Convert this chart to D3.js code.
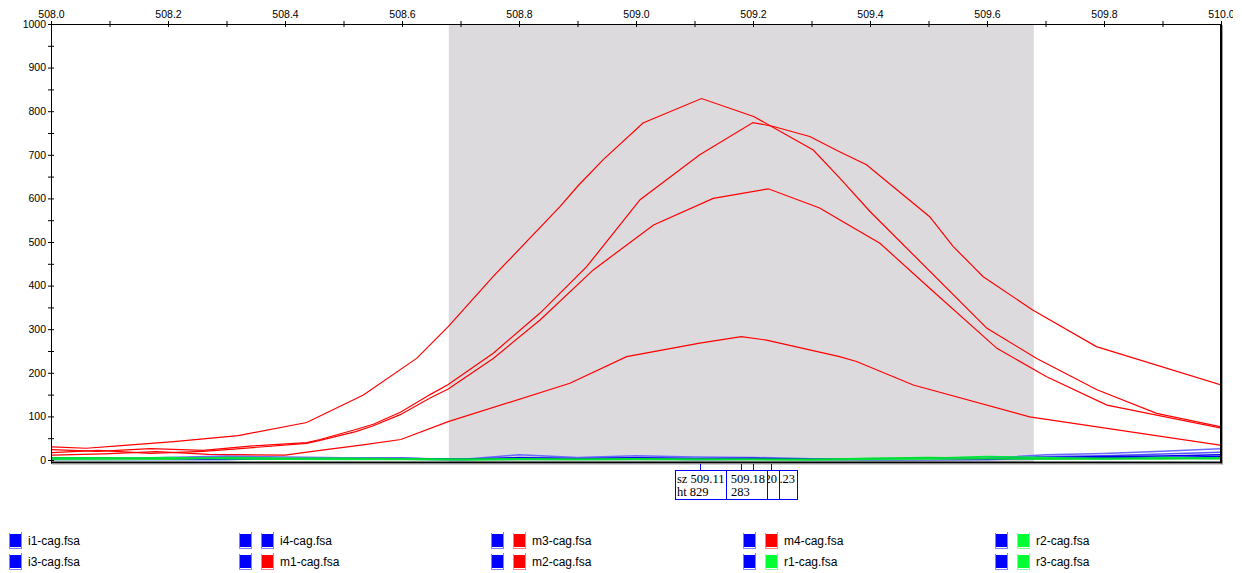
<!DOCTYPE html>
<html><head><meta charset="utf-8">
<script src="https://cdn.jsdelivr.net/npm/d3@7"></script>
<style>body{margin:0;background:#fff}svg{display:block}</style>
</head><body>
<svg id="chart" width="1242" height="573"></svg>
<script>
// ---------- data ----------
const sizeDomain = [508.0, 510.0];
const heightDomain = [0, 1000];
const xMajorTicks = [508.0, 508.2, 508.4, 508.6, 508.8, 509.0, 509.2, 509.4, 509.6, 509.8, 510.0];
const xMinorTicks = [508.1, 508.3, 508.5, 508.7, 508.9, 509.1, 509.3, 509.5, 509.7, 509.9];
const yMajorTicks = [0, 100, 200, 300, 400, 500, 600, 700, 800, 900, 1000];
const yMinorTicks = [50, 150, 250, 350, 450, 550, 650, 750, 850, 950];
const binRange = [508.68, 509.68];

// red traces: [size, height]
const m1Points = [[508.00,30],[508.06,27],[508.12,33],[508.21,42],[508.32,56],[508.437,86],[508.534,149],[508.625,233],[508.679,306],[508.756,421],[508.870,581],[508.901,629],[508.944,689],[509.012,773],[509.112,829],[509.201,788],[509.303,711],[509.348,647],[509.400,570],[509.600,302],[509.685,233],[509.788,161],[509.890,107],[510.000,76]];
const m2Points = [[508.00,24],[508.08,20],[508.17,26],[508.26,22],[508.34,32],[508.437,40],[508.46,47],[508.521,70],[508.551,82],[508.598,110],[508.648,150],[508.679,173],[508.756,245],[508.836,337],[508.916,444],[509.007,597],[509.109,700],[509.200,774],[509.235,765],[509.297,742],[509.348,707],[509.394,677],[509.502,558],[509.542,490],[509.576,444],[509.593,421],[509.678,344],[509.787,260],[510.000,172]];
const m3Points = [[508.00,17],[508.08,22],[508.17,15],[508.26,20],[508.34,28],[508.437,38],[508.46,45],[508.521,65],[508.550,78],[508.597,104],[508.648,142],[508.679,163],[508.756,233],[508.836,321],[508.927,436],[509.030,539],[509.132,600],[509.226,622],[509.314,578],[509.348,551],[509.417,497],[509.502,394],[509.617,256],[509.702,191],[509.805,126],[510.000,73]];
const m4Points = [[508.00,11],[508.09,14],[508.18,19],[508.27,13],[508.40,11],[508.46,22],[508.53,34],[508.598,47],[508.679,88],[508.887,176],[508.984,237],[509.109,268],[509.180,283],[509.223,275],[509.348,237],[509.377,226],[509.474,172],[509.673,99],[510.000,34]];

// near-baseline blue / green traces
const baseSizes = [508.0,508.1,508.2,508.3,508.4,508.5,508.6,508.7,508.8,508.9,509.0,509.1,509.2,509.3,509.4,509.5,509.6,509.7,509.8,509.9,510.0];
const blue1 = [2,1,2,3,2,3,4,2,5,3,5,3,4,2,1,1,2,6,8,9,12];
const blue2 = [4,3,6,9,7,5,4,1,12,6,10,7,6,3,2,2,4,12,15,20,26];
const blue3 = [1,2,1,1,3,2,2,1,3,2,3,1,2,1,1,1,1,3,5,6,8];
const blue4 = [3,2,4,5,3,4,3,0,6,4,5,4,4,2,1,2,3,8,10,14,18];
const green1 = [5,5,3,6,4,4,3,2,3,2,3,2,2,1,4,6,4,3,4,3,5];
const green2 = [2,4,6,3,2,2,2,1,2,1,2,1,1,1,2,4,8,6,3,6,4];
const green3 = [1,1,2,4,2,1,1,0,1,1,1,1,1,0,1,2,3,2,2,3,2];

// peak labels
const peakSizes = [509.11, 509.18, 509.20, 509.23];
const peakHeights = [829, 283, 771, 622];

// legend
const legendNames = ["i1-cag.fsa","i4-cag.fsa","m3-cag.fsa","m4-cag.fsa","r2-cag.fsa",
                     "i3-cag.fsa","m1-cag.fsa","m2-cag.fsa","r1-cag.fsa","r3-cag.fsa"];
const legendSwatches = [["blue"],["blue","blue"],["blue","red"],["blue","red"],["blue","green"],
                        ["blue"],["blue","red"],["blue","red"],["blue","green"],["blue","green"]];

// ---------- drawing ----------
const svg = d3.select("#chart");
svg.append("rect").attr("width",1242).attr("height",573).attr("fill","#fff");

const x = d3.scaleLinear().domain(sizeDomain).range([51, 1221]);
const y = d3.scaleLinear().domain(heightDomain).range([460, 24]);

// bin shading
svg.append("rect")
  .attr("x", x(binRange[0])).attr("y", y(1000) + 1)
  .attr("width", x(binRange[1]) - x(binRange[0]))
  .attr("height", 462 - y(1000) - 1)
  .attr("fill", "#dcdadd");

svg.append("clipPath").attr("id","plotclip").append("rect")
  .attr("x", 52).attr("y", 25).attr("width", 1168).attr("height", 437);

const plot = svg.append("g").attr("clip-path","url(#plotclip)");
const line = d3.line().x(d => x(d[0])).y(d => y(d[1]));

const baseSeries = [
  {v: blue3, c: "#0000ff"}, {v: blue4, c: "#5555ff"}, {v: blue2, c: "#6a6aff"}, {v: blue1, c: "#0000ee"},
  {v: green3, c: "#33e055"}, {v: green2, c: "#00e640"}, {v: green1, c: "#00dd33"}
];
baseSeries.forEach(s => {
  plot.append("path")
    .attr("d", line(baseSizes.map((sz, i) => [sz, s.v[i]])))
    .attr("fill","none").attr("stroke", s.c).attr("stroke-width", 1.5);
});

[m1Points, m2Points, m3Points, m4Points].forEach(p => {
  plot.append("path").attr("d", line(p))
    .attr("fill","none").attr("stroke","#ff0000").attr("stroke-width",1.2);
});

// top axis (labels clipped at the right like the reference)
svg.append("clipPath").attr("id","labelclip").append("rect")
  .attr("x",0).attr("y",-40).attr("width",1233).attr("height",80);
const gx = svg.append("g")
  .attr("transform", `translate(0,${y(1000)})`)
  .attr("clip-path","url(#labelclip)")
  .call(d3.axisTop(x)
    .tickValues([...xMajorTicks, ...xMinorTicks])
    .tickFormat(d => xMajorTicks.includes(d) ? d3.format(".1f")(d) : "")
    .tickSizeInner(3).tickSizeOuter(0).tickPadding(3));
gx.selectAll(".tick line").attr("y1", 3).attr("stroke","#000");
gx.select(".domain").attr("stroke","#000");
gx.attr("font-family","'Liberation Sans', Arial, sans-serif").attr("font-size",10.5);
gx.selectAll("text").attr("fill","#000");

// left axis
const gy = svg.append("g")
  .attr("transform", `translate(${x(508)},0)`)
  .call(d3.axisLeft(y)
    .tickValues([...yMajorTicks, ...yMinorTicks])
    .tickFormat(d => yMajorTicks.includes(d) ? d : "")
    .tickSizeInner(3).tickSizeOuter(0).tickPadding(2));
gy.select(".domain").remove();
gy.selectAll(".tick line").attr("x1", 3).attr("stroke","#000");
gy.attr("font-family","'Liberation Sans', Arial, sans-serif").attr("font-size",10.5);
gy.selectAll("text").attr("fill","#000");

// frame
svg.append("line").attr("x1",51.5).attr("x2",51.5).attr("y1",24).attr("y2",463.5).attr("stroke","#000");
svg.append("rect").attr("x",51).attr("y",461.5).attr("width",1171).attr("height",2).attr("fill","#000");
svg.append("rect").attr("x",1220).attr("y",24).attr("width",2).attr("height",439.5).attr("fill","#000");
svg.append("rect").attr("x",1222).attr("y",25).attr("width",1).attr("height",439.5).attr("fill","#a0a0a0");
svg.append("rect").attr("x",52).attr("y",463.5).attr("width",1171).attr("height",1).attr("fill","#a0a0a0");

// peak annotation boxes: overlapping boxes, the first one on top;
// each box shows only the part of its label that is not covered by the box before it
const boxW = 51, boxH = 29, boxTop = 470;
const boxLefts = peakSizes.map(sz => Math.round(x(sz)) - 25);
peakSizes.forEach(sz => {
  const cx = Math.round(x(sz)) + 0.5;
  svg.append("line").attr("x1",cx).attr("x2",cx).attr("y1",464).attr("y2",boxTop)
    .attr("stroke","#0000ff");
});
const sizeLabels = peakSizes.map(s => "sz " + d3.format(".2f")(s));
const htLabels = peakHeights.map(h => "ht " + h);
for (let i = peakSizes.length - 1; i >= 0; i--) {
  const left = boxLefts[i];
  const visLeft = i === 0 ? left : boxLefts[i - 1] + boxW;
  const g = svg.append("g");
  g.append("clipPath").attr("id","bc"+i).append("rect")
    .attr("x",visLeft + 1).attr("y",boxTop).attr("width",left + boxW - visLeft - 1).attr("height",boxH);
  g.append("rect").attr("x",left + 0.5).attr("y",boxTop + 0.5)
    .attr("width",boxW).attr("height",boxH)
    .attr("fill","#fff").attr("stroke","#0000ff");
  const t = g.append("g").attr("clip-path",`url(#bc${i})`)
    .attr("font-family","'Liberation Serif', 'Times New Roman', serif")
    .attr("font-size",12.5).attr("fill","#000");
  if (i === 0) {
    t.append("text").attr("x",left + 2).attr("y",boxTop + 13).text(sizeLabels[i]);
    t.append("text").attr("x",left + 2).attr("y",boxTop + 26).text(htLabels[i]);
  } else {
    const visW = left + boxW - visLeft;
    const nChars = Math.max(1, Math.round(visW / 6.3));
    const sTxt = sizeLabels[i].slice(-nChars);
    t.append("text").attr("x",left + boxW - 2).attr("y",boxTop + 13)
      .attr("text-anchor","end").text(sTxt);
    if (visW > 30) {
      t.append("text").attr("x",visLeft + 5).attr("y",boxTop + 26).text(htLabels[i].slice(3));
    }
  }
}

// legend
const colorMap = {blue: ["#0000ff", "#8080ff"], red: ["#ff0000", "#ff8080"], green: ["#00ff33", "#80ff99"]};
const colX = d3.scaleLinear().domain([0, 4]).range([9, 1017]);
const rowY = d3.scaleLinear().domain([0, 1]).range([541, 562]);
legendNames.forEach((name, i) => {
  const cx = Math.round(colX(i % 5));
  const cy = Math.round(rowY(Math.floor(i / 5)));
  const sw = legendSwatches[i];
  const g = svg.append("g");
  sw.forEach((c, k) => {
    const sx = cx - 22 * (sw.length - 1 - k);
    const [fill, light] = colorMap[c];
    g.append("rect").attr("x", sx + 1).attr("y", cy - 7).attr("width", 11).attr("height", 13).attr("fill", fill);
    g.append("path").attr("d", `M${sx + 0.5},${cy - 8}V${cy + 7.5}H${sx + 13}`)
      .attr("fill","none").attr("stroke", light);
    g.append("line").attr("x1", sx + 12.5).attr("x2", sx + 12.5).attr("y1", cy - 9).attr("y2", cy + 7)
      .attr("stroke", light);
  });
  g.append("text").attr("x", cx + 19).attr("y", cy + 4)
    .attr("font-family","'Liberation Sans', Arial, sans-serif").attr("font-size", 12)
    .attr("fill","#000").text(name);
});
</script>
</body></html>
